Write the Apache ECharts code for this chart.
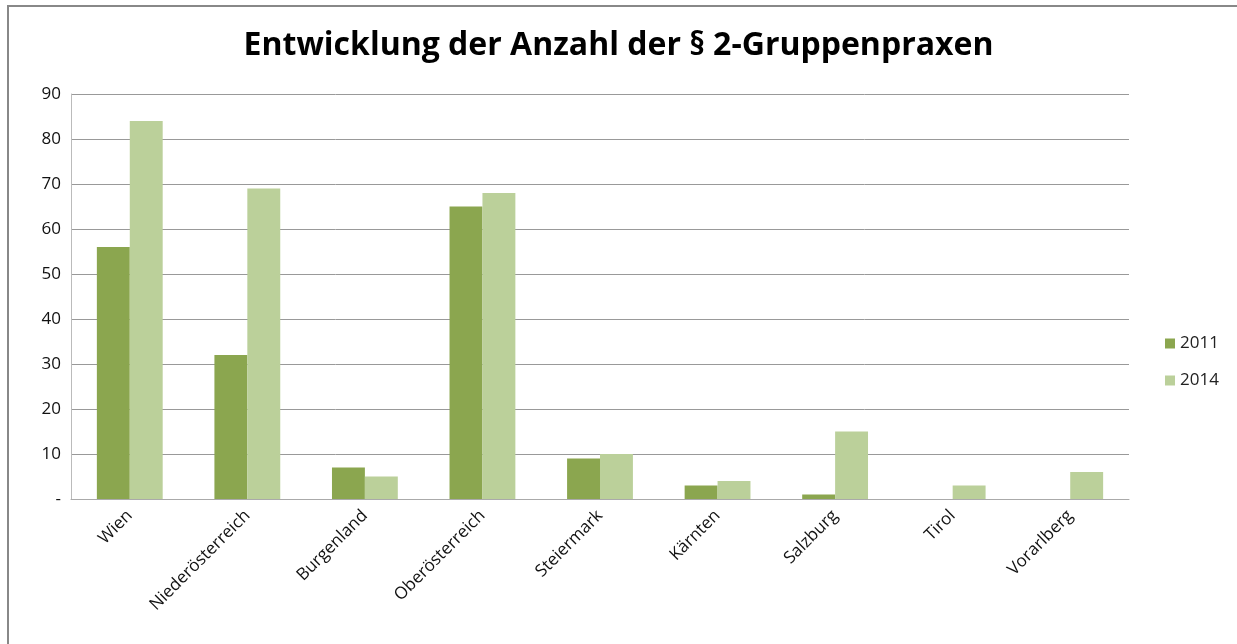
<!DOCTYPE html>
<html>
<head>
<meta charset="utf-8">
<script src="https://cdn.jsdelivr.net/npm/echarts@6/dist/echarts.min.js"></script>
<style>
  html, body { margin: 0; padding: 0; background: #fff; }
  #chart { width: 1237px; height: 644px; }
</style>
</head>
<body>
<div id="chart"></div>
<script>
// Bundesländer and counts of group practices
const regions = ['Wien', 'Niederösterreich', 'Burgenland', 'Oberösterreich', 'Steiermark',
                 'Kärnten', 'Salzburg', 'Tirol', 'Vorarlberg'];
const values2011 = [56, 32, 7, 65, 9, 3, 1, 0, 0];
const values2014 = [84, 69, 5, 68, 10, 4, 15, 3, 6];
const yTicks = { min: 0, max: 90, interval: 10 };

let myChart = echarts.init(document.getElementById('chart'));
let font = 'Open Sans';

let option = {
    backgroundColor: '#fff',
    animation: false,
    graphic: [
        {
            type: 'rect',
            shape: { x: 8, y: 6, width: 1400, height: 800 },
            style: { fill: 'none', stroke: '#888', lineWidth: 2 },
            silent: true
        }
    ],
    title: {
        text: 'Entwicklung der Anzahl der § 2-Gruppenpraxen',
        left: 'center',
        top: 25,
        textStyle: { fontFamily: font, fontSize: 32, fontWeight: 'bold', color: '#000' }
    },
    legend: {
        orient: 'vertical',
        left: 1160,
        top: 330,
        itemWidth: 10,
        itemHeight: 10,
        itemGap: 20,
        icon: 'rect',
        textStyle: { fontFamily: font, fontSize: 17, color: '#222' },
        data: ['2011', '2014']
    },
    grid: { left: 71, right: 108, top: 94, bottom: 145 },
    xAxis: {
        type: 'category',
        data: regions,
        axisLine: { lineStyle: { color: '#aaa', width: 1 } },
        axisTick: { show: false },
        axisLabel: {
            rotate: 45,
            interval: 0,
            margin: 14,
            fontFamily: font,
            fontSize: 17,
            color: '#111'
        }
    },
    yAxis: {
        type: 'value',
        min: yTicks.min,
        max: yTicks.max,
        interval: yTicks.interval,
        axisLine: { show: true, lineStyle: { color: '#bbb' } },
        axisTick: { show: false },
        splitLine: { lineStyle: { color: '#999', width: 1 } },
        axisLabel: {
            margin: 10,
            fontFamily: font,
            fontSize: 17,
            color: '#111',
            formatter: v => (v === 0 ? '-' : v)
        }
    },
    series: [
        {
            name: '2011',
            type: 'bar',
            data: values2011,
            barGap: '0%',
            barCategoryGap: '44%',
            itemStyle: { color: '#8ba64f' }
        },
        {
            name: '2014',
            type: 'bar',
            data: values2014,
            itemStyle: { color: '#bbd09a' }
        }
    ]
};

option && myChart.setOption(option);
</script>
</body>
</html>
